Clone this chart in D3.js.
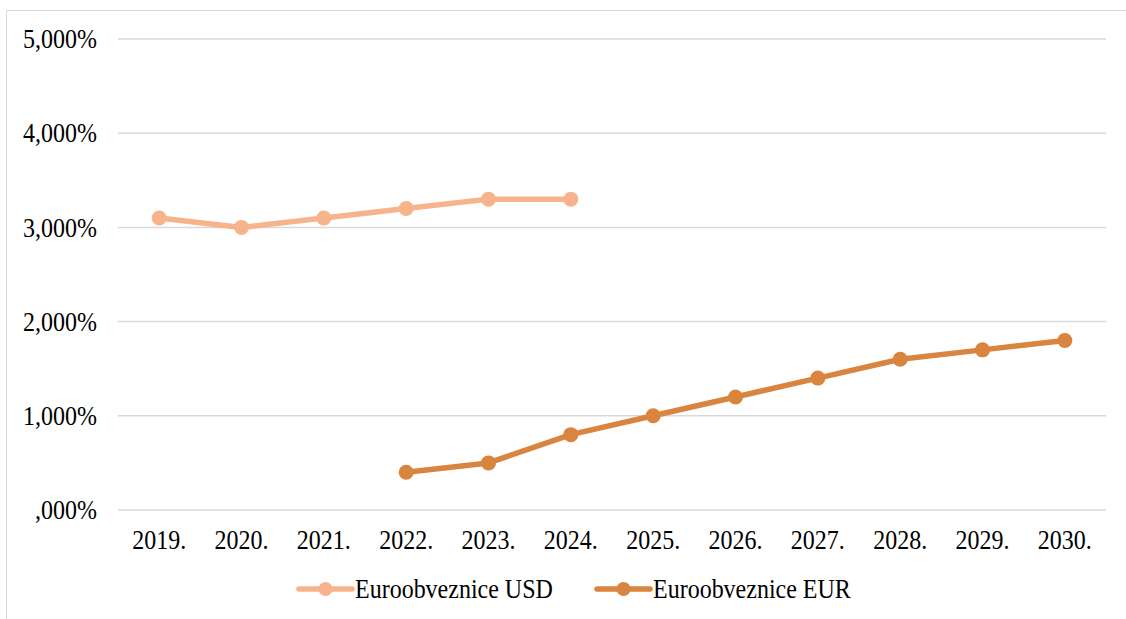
<!DOCTYPE html>
<html>
<head>
<meta charset="utf-8">
<script src="https://cdn.jsdelivr.net/npm/d3@7"></script>
<style>
  body { margin: 0; background: #fff; }
  text { font-family: "Liberation Serif", "Times New Roman", serif; fill: #000; }
</style>
</head>
<body>
<div id="chart"></div>
<script>
// Data (percent values)
const years = ["2019.", "2020.", "2021.", "2022.", "2023.", "2024.", "2025.", "2026.", "2027.", "2028.", "2029.", "2030."];
const usdYears = ["2019.", "2020.", "2021.", "2022.", "2023.", "2024."];
const usdValues = [3.1, 3.0, 3.1, 3.2, 3.3, 3.3];
const eurYears = ["2022.", "2023.", "2024.", "2025.", "2026.", "2027.", "2028.", "2029.", "2030."];
const eurValues = [0.4, 0.5, 0.8, 1.0, 1.2, 1.4, 1.6, 1.7, 1.8];
const yTicks = [0, 1, 2, 3, 4, 5];
const seriesNames = ["Euroobveznice USD", "Euroobveznice EUR"];
const colours = ["#F7B48C", "#D9843F"];

const W = 1126, H = 619;
const margin = { top: 39, right: 20, bottom: 109, left: 118 };
const plotW = 1106 - margin.left;
const plotH = 510 - margin.top;
const stretch = 1.1; // glyphs in the picture are a bit taller than wide

const svg = d3.select("#chart")
  .append("svg")
  .attr("width", W)
  .attr("height", H);

// chart frame
svg.append("rect")
  .attr("x", 6.5).attr("y", 10.5)
  .attr("width", W + 10).attr("height", H + 10)
  .attr("fill", "none")
  .attr("stroke", "#d9d9d9");

const g = svg.append("g")
  .attr("transform", "translate(" + margin.left + "," + margin.top + ")");

const x = d3.scaleBand().domain(years).range([0, plotW]);
const y = d3.scaleLinear().domain([0, 5]).range([plotH, 0]);

const fmt = v => d3.format(".3f")(v).replace(".", ",").replace(/^0,/, ",") + "%";

// gridlines
g.append("g")
  .selectAll("line")
  .data(yTicks)
  .enter()
  .append("line")
  .attr("x1", 0).attr("x2", plotW)
  .attr("y1", d => y(d)).attr("y2", d => y(d))
  .attr("stroke", "#d9d9d9")
  .attr("stroke-width", 1.5);

// y labels
g.append("g")
  .selectAll("text")
  .data(yTicks)
  .enter()
  .append("text")
  .attr("transform", d => "translate(-21," + y(d) + ") scale(1," + stretch + ")")
  .attr("dy", "0.35em")
  .attr("text-anchor", "end")
  .style("font-size", "24px")
  .text(fmt);

// x labels
g.append("g")
  .selectAll("text")
  .data(years)
  .enter()
  .append("text")
  .attr("transform", d => "translate(" + (x(d) + x.bandwidth() / 2) + "," + (plotH + 39) + ") scale(1," + stretch + ")")
  .attr("text-anchor", "middle")
  .style("font-size", "24px")
  .text(d => d);

const line = d3.line()
  .x(d => x(d[0]) + x.bandwidth() / 2)
  .y(d => y(d[1]));

const series = [
  d3.zip(usdYears, usdValues),
  d3.zip(eurYears, eurValues)
];

series.forEach((s, i) => {
  g.append("path")
    .datum(s)
    .attr("fill", "none")
    .attr("stroke", colours[i])
    .attr("stroke-width", 5.5)
    .attr("stroke-linejoin", "round")
    .attr("stroke-linecap", "round")
    .attr("d", line);
  g.append("g")
    .selectAll("circle")
    .data(s)
    .enter()
    .append("circle")
    .attr("cx", d => x(d[0]) + x.bandwidth() / 2)
    .attr("cy", d => y(d[1]))
    .attr("r", 7.5)
    .attr("fill", colours[i]);
});

// legend
const legendX = [297, 595];
const legendY = 589;
const legend = svg.append("g");
seriesNames.forEach((name, i) => {
  const lg = legend.append("g").attr("transform", "translate(" + legendX[i] + "," + legendY + ")");
  lg.append("line")
    .attr("x1", 2).attr("x2", 55)
    .attr("stroke", colours[i])
    .attr("stroke-width", 5.5)
    .attr("stroke-linecap", "round");
  lg.append("circle")
    .attr("cx", 28.5).attr("r", 7)
    .attr("fill", colours[i]);
  lg.append("text")
    .attr("transform", "translate(58,0) scale(1," + stretch + ")")
    .attr("dy", "0.35em")
    .style("font-size", "24px")
    .text(name);
});
</script>
</body>
</html>
